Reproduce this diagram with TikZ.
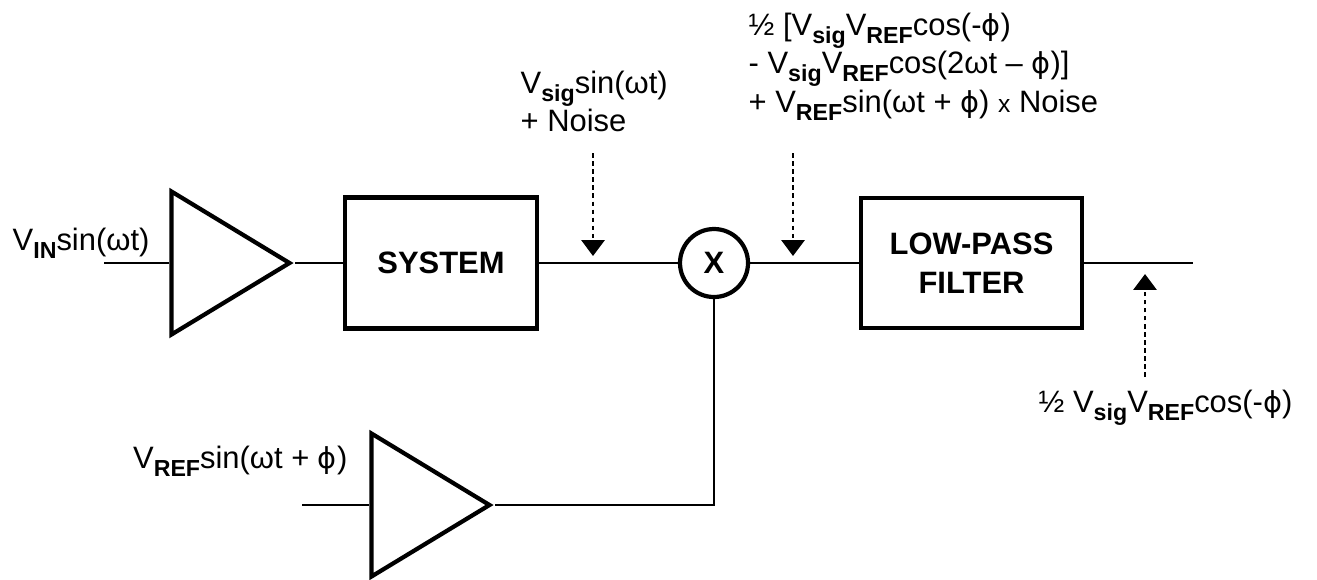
\documentclass[tikz,border=0pt]{standalone}
\usepackage{fontspec}
\setmainfont{Liberation Sans}
\newfontfamily\phifont{DejaVu Sans}
\usetikzlibrary{positioning, arrows.meta, shapes.geometric, calc}
\newcommand{\lsub}[1]{\raisebox{-2.3pt}{\fontsize{6.6}{7}\selectfont\bfseries #1}}
\newcommand{\phs}{{\phifont\fontsize{8.2}{11}\selectfont ϕ}}

\begin{document}
\begin{tikzpicture}[every node/.style={font=\fontsize{8.8}{11}\selectfont, inner sep=0pt},
    wire/.style={line width=0.6pt},
    blockbox/.style={draw, line width=1.2pt, align=center, font=\fontsize{8.8}{11}\selectfont\bfseries},
    ampl/.style={draw, line width=1.2pt, isosceles triangle, isosceles triangle stretches,
      minimum width=1.43cm, minimum height=1.18cm, anchor=apex},
    probe/.style={line width=0.8pt, dash pattern=on 1.3pt off 1pt, -{Triangle[width=6.5pt, length=4.5pt]}}]
    \useasboundingbox (0,0) rectangle (13.17,5.79);
    % Blocos da cadeia principal
    \node[ampl] (amp1) at (2.95,3.16) {};
    \node[blockbox, minimum width=1.92cm, minimum height=1.31cm] (sys) at (4.41,3.16) {SYSTEM};
    \node[draw, circle, line width=1.2pt, minimum size=0.68cm, font=\fontsize{8.8}{11}\selectfont\bfseries] (mix) at (7.14,3.16) {X};
    \node[blockbox, minimum width=2.21cm, minimum height=1.30cm] (lpf) at (9.715,3.16) {LOW-PASS\\FILTER};
    \node[ampl] (amp2) at (4.95,0.74) {};
    % Entradas e saída
    \coordinate (in1) at (1.04,3.16);
    \coordinate (in2) at (3.02,0.74);
    \coordinate (out) at (11.93,3.16);
    % Ligações
    \draw[wire] (in1) -- (amp1.west);
    \draw[wire] (amp1.apex) -- (sys.west);
    \draw[wire] (sys.east) -- (mix.west);
    \draw[wire] (mix.east) -- (lpf.west);
    \draw[wire] (lpf.east) -- (out);
    \draw[wire] (in2) -- (amp2.west);
    \draw[wire] (amp2.apex) -| (mix.south);
    % Rótulos
    \node[anchor=base west] (vin) at (0.12,3.29) {V\lsub{IN}sin(ωt)};
    \node[anchor=base east] (vref) at (3.48,1.11) {V\lsub{REF}sin(ωt + \phs)};
    \node[anchor=north west, align=left] (sig) at (5.20,5.09)
      {V\lsub{sig}sin(ωt)\\+ Noise};
    \node[anchor=north west, align=left] (prod) at (7.48,5.67)
      {½ [V\lsub{sig}V\lsub{REF}cos(-\phs)\\- V\lsub{sig}V\lsub{REF}cos(2ωt – \phs)]\\+ V\lsub{REF}sin(ωt + \phs) {\fontsize{7}{8}\selectfont x} Noise};
    \node[anchor=base west] (dc) at (10.38,1.67) {½ V\lsub{sig}V\lsub{REF}cos(-\phs)};
    % Setas pontilhadas
    \coordinate (p1a) at (5.93,4.26);
    \coordinate (p1b) at (5.93,3.23);
    \coordinate (p2a) at (7.93,4.26);
    \coordinate (p2b) at (7.93,3.23);
    \coordinate (p3a) at (11.45,2.02);
    \coordinate (p3b) at (11.45,3.05);
    \draw[probe] (p1a) -- (p1b);
    \draw[probe] (p2a) -- (p2b);
    \draw[probe] (p3a) -- (p3b);
  \end{tikzpicture}
\end{document}
